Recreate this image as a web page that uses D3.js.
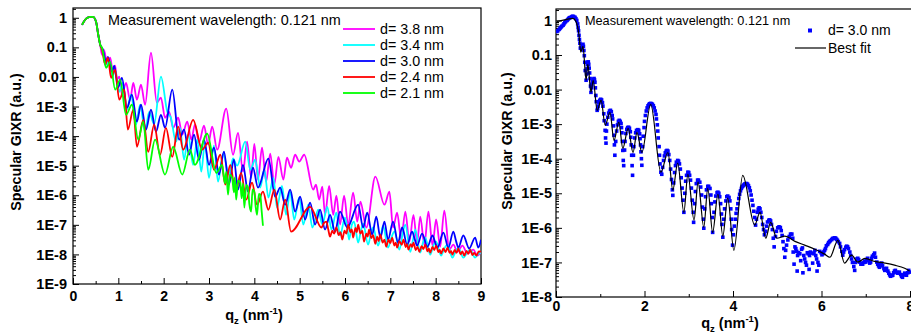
<!DOCTYPE html>
<html>
<head>
<meta charset="utf-8">
<script src="https://cdn.jsdelivr.net/npm/d3@7"></script>
<style>
  body { margin: 0; background: #fff; }
  text { font-family: "Liberation Sans", Arial, sans-serif; }
</style>
</head>
<body>
<div id="app"></div>
<script>
// values are [qz (nm^-1), log10 of specular GIXR]
const startEdge = [[0.20,-0.24],[0.29,-0.03],[0.38,0.03],[0.44,0.03],[0.51,-0.14],[0.55,-0.51],[0.60,-0.91]];

const d38 = startEdge.concat([[0.64,-1.25],[0.68,-1.08],[0.75,-1.49],[0.82,-1.35],[0.88,-1.82],[0.93,-1.62],[0.97,-2.09],[1.02,-1.99],[1.08,-2.60],[1.17,-2.20],[1.26,-2.77],[1.33,-2.20],[1.41,-2.77],[1.50,-2.26],[1.59,-2.94],[1.72,-1.18],[1.85,-2.87],[1.94,-2.70],[2.03,-3.38],[2.12,-3.18],[2.21,-3.72],[2.32,-3.38],[2.41,-3.95],[2.52,-3.51],[2.61,-4.12],[2.69,-3.61],[2.78,-4.22],[2.89,-3.65],[2.98,-4.29],[3.07,-3.68],[3.18,-4.46],[3.38,-3.07],[3.53,-4.63],[3.64,-3.89],[3.75,-5.20],[3.84,-4.19],[3.93,-5.41],[4.00,-4.26],[4.08,-5.47],[4.17,-4.39],[4.26,-5.54],[4.35,-4.59],[4.44,-5.64],[4.53,-4.70],[4.64,-5.47],[4.72,-4.73],[4.81,-5.07],[4.90,-4.63],[4.99,-4.86],[5.10,-4.63],[5.30,-5.81],[5.36,-5.64],[5.43,-6.15],[5.50,-5.71],[5.56,-6.66],[5.65,-5.68],[5.74,-6.66],[5.81,-6.01],[5.89,-6.99],[5.98,-6.01],[6.07,-6.99],[6.18,-5.91],[6.27,-6.89],[6.34,-6.22],[6.47,-7.09],[6.67,-5.37],[6.87,-6.32],[6.98,-5.88],[7.06,-7.09],[7.15,-6.59],[7.24,-7.50],[7.33,-6.55],[7.42,-7.57],[7.51,-6.66],[7.59,-7.60],[7.66,-6.72],[7.75,-7.67],[7.84,-6.55],[7.93,-7.70],[8.01,-6.82],[8.10,-7.74],[8.19,-6.52],[8.30,-7.84],[8.39,-7.67],[8.48,-7.91],[8.59,-7.70],[8.70,-7.97],[8.83,-7.84],[8.92,-8.04],[9.00,-7.91]]);

const d34 = startEdge.concat([[0.66,-1.15],[0.73,-1.59],[0.80,-1.42],[0.86,-2.03],[0.93,-1.76],[1.02,-2.50],[1.10,-2.20],[1.19,-3.11],[1.28,-2.60],[1.39,-3.61],[1.48,-2.94],[1.59,-3.85],[1.68,-3.18],[1.79,-3.60],[1.94,-1.99],[2.08,-3.18],[2.16,-3.38],[2.27,-4.19],[2.36,-3.72],[2.45,-4.80],[2.54,-3.95],[2.65,-4.97],[2.74,-4.12],[2.83,-5.20],[2.91,-4.22],[3.00,-5.41],[3.11,-4.32],[3.20,-5.54],[3.31,-4.60],[3.44,-5.30],[3.53,-4.75],[3.62,-5.00],[3.80,-4.19],[3.91,-5.14],[4.02,-4.80],[4.13,-5.74],[4.22,-5.14],[4.31,-6.08],[4.42,-5.41],[4.50,-6.42],[4.61,-5.68],[4.70,-6.66],[4.79,-5.88],[4.88,-6.82],[4.99,-6.08],[5.08,-6.99],[5.19,-6.32],[5.28,-7.09],[5.41,-6.49],[5.50,-6.99],[5.61,-6.39],[5.70,-7.16],[5.81,-6.59],[5.89,-7.36],[6.00,-6.76],[6.05,-7.10],[6.09,-7.50],[6.15,-7.00],[6.20,-6.89],[6.29,-7.60],[6.35,-7.20],[6.40,-6.96],[6.51,-7.67],[6.57,-7.30],[6.62,-7.09],[6.73,-7.70],[6.79,-7.35],[6.84,-7.03],[6.95,-7.77],[7.02,-7.45],[7.09,-7.23],[7.20,-7.84],[7.27,-7.30],[7.33,-6.99],[7.44,-7.91],[7.50,-7.50],[7.55,-7.16],[7.66,-7.94],[7.72,-7.60],[7.77,-7.43],[7.88,-8.01],[7.95,-7.70],[8.01,-7.57],[8.12,-8.04],[8.19,-7.80],[8.26,-7.67],[8.37,-8.11],[8.44,-7.90],[8.50,-7.77],[8.61,-8.11],[8.69,-7.95],[8.76,-7.84],[8.87,-8.11],[8.94,-7.98],[9.00,-7.94]]);

const d30 = startEdge.concat([[0.66,-1.08],[0.73,-1.49],[0.77,-1.32],[0.86,-1.82],[0.91,-1.62],[0.99,-2.36],[1.08,-2.03],[1.19,-3.04],[1.30,-2.60],[1.41,-3.51],[1.50,-2.94],[1.61,-3.78],[1.72,-3.11],[1.83,-3.85],[1.94,-3.28],[2.03,-3.72],[2.19,-2.43],[2.34,-4.12],[2.45,-3.78],[2.56,-4.63],[2.67,-3.95],[2.78,-4.80],[2.89,-4.12],[3.00,-4.97],[3.11,-4.39],[3.22,-5.30],[3.33,-4.53],[3.44,-5.64],[3.55,-4.80],[3.64,-5.81],[3.75,-4.97],[3.86,-5.88],[3.97,-5.07],[4.08,-5.74],[4.31,-4.76],[4.46,-6.05],[4.57,-5.74],[4.68,-6.32],[4.79,-5.81],[4.90,-6.55],[5.01,-6.05],[5.12,-6.82],[5.23,-6.25],[5.34,-6.99],[5.45,-6.49],[5.56,-7.16],[5.67,-6.66],[5.78,-7.23],[5.89,-6.55],[6.05,-7.09],[6.29,-6.32],[6.40,-7.09],[6.49,-6.59],[6.60,-7.33],[6.69,-6.72],[6.78,-7.43],[6.87,-6.89],[6.95,-7.50],[7.06,-6.89],[7.17,-7.60],[7.26,-7.09],[7.37,-7.67],[7.48,-7.23],[7.54,-7.50],[7.59,-7.70],[7.70,-7.30],[7.82,-7.74],[7.93,-7.36],[7.99,-7.60],[8.04,-7.77],[8.17,-7.26],[8.28,-7.77],[8.39,-7.23],[8.45,-7.55],[8.50,-7.77],[8.61,-7.36],[8.74,-7.80],[8.87,-7.43],[8.94,-7.77],[9.00,-7.50]]);

const d24 = startEdge.concat([[0.64,-1.08],[0.71,-1.59],[0.77,-1.35],[0.84,-2.03],[0.93,-1.76],[1.02,-2.77],[1.13,-2.43],[1.21,-3.78],[1.33,-3.11],[1.41,-4.36],[1.55,-3.45],[1.66,-4.53],[1.79,-3.61],[1.92,-4.63],[2.05,-3.72],[2.19,-4.70],[2.32,-3.68],[2.43,-4.46],[2.65,-3.45],[2.85,-4.46],[2.98,-4.22],[3.11,-5.14],[3.25,-4.63],[3.36,-5.64],[3.47,-4.97],[3.58,-5.88],[3.71,-5.24],[3.82,-6.15],[3.95,-5.57],[4.06,-6.32],[4.19,-5.88],[4.31,-6.49],[4.44,-5.81],[4.57,-6.82],[4.68,-6.15],[4.81,-7.23],[5.23,-6.39],[5.48,-7.09],[5.53,-6.95],[5.59,-6.89],[5.63,-7.15],[5.67,-7.40],[5.72,-7.20],[5.76,-7.30],[5.81,-7.09],[5.86,-7.35],[5.90,-7.25],[5.94,-7.50],[5.99,-7.20],[6.03,-7.30],[6.07,-6.99],[6.12,-7.25],[6.15,-7.15],[6.18,-7.43],[6.23,-7.10],[6.26,-7.25],[6.29,-6.99],[6.34,-7.30],[6.38,-7.20],[6.42,-7.57],[6.47,-7.30],[6.50,-7.40],[6.53,-7.16],[6.58,-7.45],[6.62,-7.35],[6.67,-7.64],[6.71,-7.40],[6.74,-7.55],[6.78,-7.33],[6.83,-7.60],[6.87,-7.50],[6.91,-7.74],[6.96,-7.50],[7.00,-7.62],[7.04,-7.43],[7.09,-7.70],[7.12,-7.60],[7.15,-7.77],[7.20,-7.55],[7.25,-7.68],[7.29,-7.50],[7.34,-7.75],[7.37,-7.65],[7.40,-7.84],[7.45,-7.65],[7.48,-7.75],[7.51,-7.60],[7.56,-7.85],[7.60,-7.75],[7.64,-7.91],[7.69,-7.72],[7.73,-7.82],[7.77,-7.67],[7.82,-7.90],[7.85,-7.80],[7.88,-7.94],[7.93,-7.75],[7.97,-7.85],[8.01,-7.70],[8.06,-7.92],[8.09,-7.85],[8.12,-7.97],[8.17,-7.80],[8.22,-7.92],[8.26,-7.77],[8.31,-7.95],[8.34,-7.88],[8.37,-8.01],[8.42,-7.85],[8.46,-7.95],[8.50,-7.80],[8.55,-8.00],[8.59,-7.90],[8.63,-8.04],[8.68,-7.88],[8.72,-7.98],[8.76,-7.84],[8.81,-8.02],[8.85,-7.95],[8.90,-8.04],[8.95,-7.90],[9.00,-7.91]]);

const d21 = startEdge.concat([[0.64,-1.01],[0.73,-1.69],[0.82,-1.49],[0.93,-2.43],[1.04,-2.09],[1.17,-3.28],[1.30,-2.94],[1.44,-4.12],[1.55,-3.51],[1.66,-5.14],[1.81,-4.12],[2.03,-5.30],[2.21,-4.36],[2.41,-5.30],[2.58,-4.46],[2.69,-4.97],[2.96,-3.92],[3.16,-5.24],[3.29,-4.97],[3.35,-5.60],[3.38,-5.20],[3.42,-5.98],[3.46,-5.30],[3.51,-5.41],[3.55,-5.90],[3.57,-5.40],[3.60,-6.15],[3.64,-5.50],[3.69,-5.57],[3.72,-6.10],[3.75,-5.60],[3.78,-6.42],[3.82,-5.65],[3.86,-5.74],[3.89,-6.30],[3.93,-6.55],[3.96,-5.80],[4.00,-5.88],[4.03,-6.40],[4.06,-6.66],[4.10,-5.95],[4.13,-5.98],[4.16,-6.50],[4.19,-7.03]]);

const seriesNames = ['d= 3.8 nm', 'd= 3.4 nm', 'd= 3.0 nm', 'd= 2.4 nm', 'd= 2.1 nm'];
const seriesColors = ['#ff00ff', '#00ffff', '#0000ff', '#ff0000', '#00ff00'];
const seriesData = [d38, d34, d30, d24, d21];

// right panel: measured d = 3.0 nm points
const measured30 = [[0.02,-0.32],[0.04,-0.30],[0.07,-0.26],[0.09,-0.23],[0.11,-0.20],[0.13,-0.17],[0.16,-0.14],[0.18,-0.10],[0.20,-0.06],[0.22,-0.03],[0.25,0],[0.27,0.03],[0.29,0.06],[0.31,0.08],[0.34,0.09],[0.36,0.11],[0.38,0.12],[0.40,0.11],[0.43,0.09],[0.45,0.05],[0.47,0],[0.49,-0.10],[0.50,-0.20],[0.51,-0.30],[0.52,-0.43],[0.53,-0.55],[0.54,-0.66],
  [0.55,-0.80],[0.57,-0.80],[0.59,-0.72],[0.61,-0.69],[0.62,-0.75],[0.63,-0.87],[0.64,-1.02],[0.65,-1.21],[0.66,-1.45],[0.68,-1.73],
  [0.69,-1.55],[0.70,-1.40],[0.71,-1.28],[0.72,-1.21],[0.73,-1.20],[0.74,-1.27],[0.75,-1.38],[0.76,-1.52],[0.77,-1.68],[0.78,-1.90],[0.79,-2.08],
  [0.80,-1.95],[0.81,-1.85],[0.82,-1.77],[0.84,-1.70],[0.86,-1.68],[0.87,-1.72],[0.88,-1.79],[0.89,-1.95],[0.90,-2.17],[0.91,-2.35],[0.93,-2.60],
  [0.94,-2.55],[0.95,-2.48],[0.97,-2.38],[0.99,-2.31],[1.01,-2.28],[1.03,-2.30],[1.05,-2.38],[1.06,-2.48],[1.08,-2.70],[1.09,-2.90],[1.11,-3.18],[1.12,-3.40],[1.13,-3.55],
  [1.14,-3.20],[1.15,-3.00],[1.17,-2.80],[1.19,-2.68],[1.21,-2.62],[1.23,-2.60],[1.25,-2.64],[1.27,-2.75],[1.28,-2.85],[1.30,-3.05],[1.31,-3.32],[1.32,-3.60],[1.33,-3.90],
  [1.35,-3.50],[1.37,-3.20],[1.39,-3.02],[1.41,-2.92],[1.43,-2.89],[1.45,-2.92],[1.47,-2.98],[1.48,-3.10],[1.49,-3.25],[1.50,-3.50],[1.51,-3.76],[1.52,-4.05],[1.53,-4.20],
  [1.55,-3.75],[1.56,-3.50],[1.58,-3.27],[1.60,-3.15],[1.62,-3.10],[1.64,-3.09],[1.66,-3.12],[1.68,-3.22],[1.69,-3.38],[1.70,-3.60],[1.71,-3.90],[1.72,-4.20],[1.73,-4.48],
  [1.75,-3.90],[1.76,-3.65],[1.78,-3.40],[1.80,-3.25],[1.82,-3.18],[1.85,-3.16],[1.87,-3.18],[1.89,-3.28],[1.90,-3.42],[1.91,-3.60],[1.92,-3.80],[1.93,-4.00],[1.94,-4.19],
  [1.96,-3.65],[1.97,-3.35],[1.99,-3.10],[2.00,-2.92],[2.02,-2.75],[2.04,-2.62],[2.06,-2.53],[2.08,-2.47],[2.10,-2.43],[2.12,-2.41],[2.14,-2.40],[2.16,-2.41],[2.18,-2.43],[2.20,-2.47],[2.22,-2.53],[2.24,-2.62],[2.26,-2.72],[2.27,-2.85],[2.29,-3.02],[2.30,-3.20],[2.31,-3.40],[2.33,-3.65],[2.34,-3.90],[2.35,-4.15],[2.37,-4.39],
  [2.39,-4.45],[2.41,-4.25],[2.43,-4.05],[2.45,-3.92],[2.47,-3.83],[2.49,-3.78],[2.51,-3.76],[2.53,-3.78],[2.55,-3.88],[2.57,-4.05],[2.59,-4.30],[2.61,-4.60],[2.63,-4.90],[2.64,-5.06],
  [2.66,-4.70],[2.68,-4.40],[2.70,-4.20],[2.72,-4.10],[2.75,-4.05],[2.77,-4.07],[2.79,-4.15],[2.81,-4.30],[2.83,-4.55],[2.85,-4.85],[2.87,-5.20],[2.89,-5.55],
  [2.91,-5.00],[2.93,-4.65],[2.95,-4.48],[2.98,-4.39],[3.00,-4.40],[3.02,-4.48],[3.04,-4.62],[3.06,-4.85],[3.08,-5.20],[3.10,-5.55],[3.11,-5.84],
  [3.13,-5.30],[3.15,-4.95],[3.17,-4.72],[3.20,-4.62],[3.22,-4.62],[3.25,-4.68],[3.27,-4.82],[3.29,-5.05],[3.31,-5.40],[3.33,-5.75],[3.34,-6.01],
  [3.36,-5.45],[3.38,-5.10],[3.40,-4.90],[3.43,-4.80],[3.45,-4.80],[3.48,-4.86],[3.50,-5.05],[3.51,-5.30],[3.53,-5.70],[3.54,-6.13],
  [3.57,-5.55],[3.59,-5.25],[3.61,-5.08],[3.64,-4.98],[3.66,-4.97],[3.68,-5.00],[3.70,-5.10],[3.72,-5.30],[3.74,-5.60],[3.75,-5.90],[3.77,-6.27],
  [3.79,-5.75],[3.81,-5.45],[3.84,-5.22],[3.86,-5.10],[3.88,-5.08],[3.91,-5.12],[3.93,-5.22],[3.95,-5.45],[3.96,-5.75],[3.97,-6.05],[3.99,-6.50],
  [4.01,-6.20],[4.03,-5.95],[4.05,-5.75],[4.07,-5.58],[4.09,-5.45],[4.11,-5.30],[4.13,-5.15],[4.15,-5.03],[4.17,-4.93],[4.19,-4.86],[4.21,-4.81],[4.23,-4.78],[4.25,-4.75],[4.27,-4.73],[4.29,-4.72],[4.31,-4.72],[4.33,-4.74],[4.35,-4.78],[4.37,-4.84],[4.39,-4.93],[4.41,-5.05],[4.43,-5.20],[4.45,-5.35],[4.47,-5.52],[4.49,-5.70],[4.51,-5.92],
  [4.53,-5.75],[4.55,-5.55],[4.57,-5.46],[4.59,-5.42],[4.61,-5.45],[4.63,-5.55],[4.65,-5.70],[4.67,-5.90],[4.69,-6.05],[4.71,-6.20],
  [4.74,-6.10],[4.76,-5.95],[4.78,-5.83],[4.81,-5.78],[4.83,-5.77],[4.85,-5.80],[4.87,-5.90],[4.89,-6.05],[4.91,-6.30],[4.93,-6.55],
  [4.96,-6.25],[4.98,-6.10],[5.01,-6.00],[5.04,-5.97],[5.07,-5.99],[5.09,-6.08],[5.11,-6.22],[5.13,-6.40],[5.15,-6.60],[5.17,-6.85],
  [5.19,-6.65],[5.21,-6.50],[5.24,-6.35],[5.27,-6.25],[5.30,-6.18],[5.33,-6.18],[5.35,-6.30],[5.36,-6.70],[5.38,-7.05],[5.40,-6.55],[5.42,-6.60],[5.44,-6.68],[5.45,-7.25],[5.46,-6.80],[5.48,-6.72],[5.51,-6.75],[5.53,-6.95],[5.55,-6.62],[5.57,-6.58],[5.58,-7.30],[5.60,-6.80],[5.62,-6.90],[5.64,-7.00],[5.66,-7.08],[5.68,-6.72],[5.70,-6.75],[5.72,-7.20],[5.73,-6.80],[5.75,-6.70],[5.78,-6.73],[5.80,-7.02],[5.83,-6.75],[5.85,-6.65],[5.87,-6.80],[5.89,-6.90],[5.90,-7.25],[5.92,-7.00],[5.94,-7.08],[5.96,-6.68],[5.99,-6.72],[6.01,-6.78],[6.03,-6.75],[6.05,-6.70],
  [6.07,-6.65],[6.09,-6.60],[6.11,-6.52],[6.14,-6.48],[6.16,-6.43],[6.18,-6.40],[6.20,-6.37],[6.23,-6.34],[6.25,-6.31],[6.27,-6.30],[6.30,-6.29],[6.32,-6.30],[6.34,-6.33],[6.36,-6.36],[6.38,-6.40],[6.41,-6.45],[6.43,-6.55],[6.46,-6.68],[6.48,-6.79],[6.50,-6.70],[6.52,-6.63],[6.55,-6.56],[6.57,-6.53],[6.59,-6.55],[6.61,-6.60],[6.64,-6.70],[6.66,-6.80],[6.68,-6.90],[6.70,-7.00],[6.73,-7.12],[6.75,-7.23],[6.77,-7.00],[6.80,-6.90],[6.82,-6.88],[6.84,-6.92],[6.86,-6.99],[6.89,-7.05],[6.91,-7.02],[6.93,-7.05],[6.96,-7.00],[6.98,-6.96],[7.00,-6.99],[7.02,-6.92],[7.04,-6.88],[7.07,-6.95],[7.09,-7.02],[7.11,-6.99],[7.13,-6.88],[7.15,-6.82],[7.18,-6.78],[7.20,-6.73],[7.22,-6.85],[7.25,-6.99],[7.27,-7.05],[7.29,-7.10],[7.31,-7.14],[7.34,-7.05],[7.36,-7.02],[7.38,-7.10],[7.41,-7.18],[7.43,-7.23],[7.45,-7.20],[7.47,-7.17],[7.50,-7.25],[7.52,-7.31],[7.54,-7.36],[7.56,-7.40],[7.59,-7.38],[7.61,-7.37],[7.63,-7.30],[7.65,-7.25],[7.67,-7.23],[7.70,-7.28],[7.72,-7.31],[7.74,-7.30],[7.76,-7.28],[7.79,-7.35],[7.81,-7.40],[7.83,-7.43],[7.85,-7.36],[7.88,-7.31],[7.90,-7.35],[7.92,-7.37],[7.95,-7.30],[7.97,-7.23],[7.99,-7.28]];

const bestFit = [[0.02,-0.03],[0.14,0],[0.27,0.04],[0.38,0.06],[0.45,-0.03],[0.52,-0.43],[0.56,-0.92],[0.61,-0.75],[0.68,-1.73],[0.72,-1.27],[0.79,-2.08],[0.84,-1.73],[0.93,-2.60],[1.02,-2.31],[1.11,-3.03],[1.22,-2.66],[1.31,-3.47],[1.42,-2.95],[1.51,-3.70],[1.63,-3.12],[1.74,-3.82],[1.83,-3.24],[1.94,-3.82],[2.14,-2.43],[2.37,-4.39],[2.53,-3.82],[2.64,-4.91],[2.75,-4.13],[2.89,-5.55],[2.98,-4.45],[3.12,-5.78],[3.21,-4.68],[3.34,-5.98],[3.43,-4.86],[3.54,-6.13],[3.66,-5.03],[3.77,-6.24],[3.88,-5.14],[4.02,-6.65],[4.22,-4.48],[4.49,-5.92],[4.61,-5.55],[4.74,-6.30],[4.85,-5.84],[4.99,-6.30],[5.17,-6.24],[5.40,-6.39],[5.62,-6.50],[5.85,-6.62],[6.07,-6.76],[6.19,-6.85],[6.37,-6.36],[6.52,-7.02],[6.68,-6.79],[6.82,-6.99],[6.98,-6.88],[7.20,-6.97],[7.43,-7.02],[7.65,-7.08],[7.88,-7.17],[7.99,-7.25]];

// ticks
const leftXTicks = [0,1,2,3,4,5,6,7,8,9];
const leftXMinor = [0.5,1.5,2.5,3.5,4.5,5.5,6.5,7.5,8.5];
const leftYTicks = [1,1e-1,1e-2,1e-3,1e-4,1e-5,1e-6,1e-7,1e-8,1e-9];
const leftYLabels = ['1','0.1','0.01','1E-3','1E-4','1E-5','1E-6','1E-7','1E-8','1E-9'];
const rightXTicks = [0,2,4,6,8];
const rightXMinor = [1,3,5,7];
const rightYTicks = [1,1e-1,1e-2,1e-3,1e-4,1e-5,1e-6,1e-7,1e-8];
const rightYLabels = ['1','0.1','0.01','1E-3','1E-4','1E-5','1E-6','1E-7','1E-8'];

const W = 911, H = 336;
const yTop = 2.14;

const svg = d3.select('#app').append('svg')
  .attr('width', W).attr('height', H)
  .style('display', 'block');

const logMinor = (lo) => {
  const out = [];
  for (let e = Math.round(Math.log10(lo)); e < 1; e++) {
    for (let m = 2; m <= 9; m++) {
      const v = m * Math.pow(10, e);
      if (v < yTop) out.push(v);
    }
  }
  return out;
};

const makePanel = (p) => {
  const x = d3.scaleLinear().domain([0, p.xmax]).range([p.x0, p.x1]);
  const y = d3.scaleLog().domain([p.ymin, yTop]).range([p.y1, p.y0]);
  const g = svg.append('g');

  g.append('clipPath').attr('id', p.id)
    .append('rect')
    .attr('x', p.x0).attr('y', p.y0)
    .attr('width', p.frameRight - p.x0).attr('height', p.y1 - p.y0);

  // axes, ticks pointing in
  const xa = g.append('g').attr('transform', `translate(0,${p.y1})`)
    .call(d3.axisBottom(x).tickValues(p.xTicks).tickSize(-6).tickPadding(p.xPad).tickFormat(d3.format('d')));
  g.append('g').attr('transform', `translate(0,${p.y1})`)
    .call(d3.axisBottom(x).tickValues(p.xMinor).tickSize(-3).tickFormat(''));
  const ya = g.append('g').attr('transform', `translate(${p.x0},0)`)
    .call(d3.axisLeft(y).tickValues(p.yTicks).tickSize(-6).tickPadding(p.yPad).tickFormat((d, i) => p.yLabels[i]));
  g.append('g').attr('transform', `translate(${p.x0},0)`)
    .call(d3.axisLeft(y).tickValues(logMinor(p.ymin)).tickSize(-3).tickFormat(''));

  g.selectAll('.domain').remove();
  g.selectAll('.tick line').attr('stroke', '#000').attr('stroke-width', 1);
  xa.selectAll('text').attr('font-size', 14).attr('font-weight', 'bold').attr('fill', '#000');
  ya.selectAll('text').attr('font-size', 14.5).attr('font-weight', 'bold').attr('fill', '#000');

  g.append('rect')
    .attr('x', p.x0).attr('y', p.y0)
    .attr('width', p.frameRight - p.x0).attr('height', p.y1 - p.y0)
    .attr('fill', 'none').attr('stroke', '#000').attr('stroke-width', 1.2);

  // axis titles
  const xt = g.append('text')
    .attr('x', p.xTitleX).attr('y', p.xTitleY)
    .attr('text-anchor', 'middle')
    .attr('font-size', 14.5).attr('font-weight', 'bold');
  xt.append('tspan').text('q');
  xt.append('tspan').attr('dy', 4).attr('font-size', 9.5).text('z');
  xt.append('tspan').attr('dy', -4).text(' (nm');
  xt.append('tspan').attr('dy', -6).attr('font-size', 9.5).text('-1');
  xt.append('tspan').attr('dy', 6).text(')');

  g.append('text')
    .attr('transform', `translate(${p.yTitleX},${p.yTitleY}) rotate(-90)`)
    .attr('text-anchor', 'middle')
    .attr('font-size', 14.3).attr('font-weight', 'bold')
    .text('Specular GIXR (a.u.)');

  g.append('text')
    .attr('x', p.noteX).attr('y', p.noteY)
    .attr('font-size', p.noteSize)
    .text('Measurement wavelength: 0.121 nm');

  const plot = g.append('g').attr('clip-path', `url(#${p.id})`);
  return { x, y, g, plot };
};

const left = makePanel({
  id: 'clipL', x0: 73, x1: 481, frameRight: 481, y0: 8, y1: 284,
  xmax: 9, ymin: 1e-9,
  xTicks: leftXTicks, xMinor: leftXMinor, yTicks: leftYTicks, yLabels: leftYLabels,
  xPad: 7, yPad: 6,
  xTitleX: 254, xTitleY: 320, yTitleX: 21, yTitleY: 142,
  noteX: 108, noteY: 24.5, noteSize: 14.4
});

const right = makePanel({
  id: 'clipR', x0: 556, x1: 910, frameRight: 918, y0: 9, y1: 297,
  xmax: 8, ymin: 1e-8,
  xTicks: rightXTicks, xMinor: rightXMinor, yTicks: rightYTicks, yLabels: rightYLabels,
  xPad: 4, yPad: 4,
  xTitleX: 730, xTitleY: 328, yTitleX: 512, yTitleY: 141,
  noteX: 585, noteY: 24.5, noteSize: 12.7
});

// left curves
const lineL = d3.line()
  .x(d => left.x(d[0]))
  .y(d => left.y(Math.pow(10, d[1])))
  .curve(d3.curveMonotoneX);

left.plot.selectAll('path.series')
  .data(seriesData)
  .enter()
  .append('path')
  .attr('class', 'series')
  .attr('d', d => lineL(d))
  .attr('fill', 'none')
  .attr('stroke', (d, i) => seriesColors[i])
  .attr('stroke-width', 1.8)
  .attr('stroke-linejoin', 'round');

// left legend
const legL = left.g.append('g');
seriesNames.forEach((name, i) => {
  const cy = 29 + i * 16;
  legL.append('line')
    .attr('x1', 343).attr('x2', 375).attr('y1', cy).attr('y2', cy)
    .attr('stroke', seriesColors[i]).attr('stroke-width', 1.8);
  legL.append('text')
    .attr('x', 380).attr('y', cy + 5)
    .attr('font-size', 14.3)
    .text(name);
});

// right: measured squares, fit drawn over them
right.plot.selectAll('rect.pt')
  .data(measured30)
  .enter()
  .append('rect')
  .attr('class', 'pt')
  .attr('x', d => right.x(d[0]) - 1.8)
  .attr('y', d => right.y(Math.pow(10, d[1])) - 1.8)
  .attr('width', 3.6).attr('height', 3.6)
  .attr('fill', '#0000ff');

const lineR = d3.line()
  .x(d => right.x(d[0]))
  .y(d => right.y(Math.pow(10, d[1])))
  .curve(d3.curveMonotoneX);

right.plot.append('path')
  .attr('d', lineR(bestFit))
  .attr('fill', 'none')
  .attr('stroke', '#000')
  .attr('stroke-width', 1.2);

// right legend
const legR = right.g.append('g');
legR.append('rect')
  .attr('x', 808).attr('y', 28.5).attr('width', 4).attr('height', 4)
  .attr('fill', '#0000ff');
legR.append('text').attr('x', 828).attr('y', 35).attr('font-size', 14).text('d= 3.0 nm');
legR.append('line')
  .attr('x1', 795).attr('x2', 826).attr('y1', 48).attr('y2', 48)
  .attr('stroke', '#000').attr('stroke-width', 1.2);
legR.append('text').attr('x', 828).attr('y', 53).attr('font-size', 14).text('Best fit');
</script>
</body>
</html>
